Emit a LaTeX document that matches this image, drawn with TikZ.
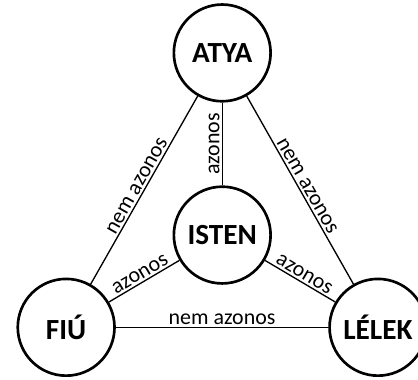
\documentclass[tikz,border=0pt]{standalone}
\usepackage{fontspec}
\setmainfont{Carlito}
\usepackage{tikz}
\usetikzlibrary{positioning}

\begin{document}
\begin{tikzpicture}[scale = 1,
  person/.style={circle, draw, line width=2pt, minimum size=2.56cm, inner sep=0pt, font=\fontsize{22}{25}\selectfont\bfseries},
  rel/.style={line width=1pt},
  lbl/.style={sloped, above, inner sep=1.5pt, font=\fontsize{16.5}{19}\selectfont}]
\useasboundingbox (0,0) rectangle (11.06,10.03);
\node[person] (atya)  at (5.88,8.63) {ATYA};
\node[person] (isten) at (5.88,3.81) {ISTEN};
\node[person] (fiu)   at (1.75,1.37) {FIÚ};
\node[person] (lelek) at (10.0,1.37) {LÉLEK};
\draw[rel] (fiu) -- (atya) node[lbl, midway] {nem azonos};
\draw[rel] (atya) -- (lelek) node[lbl, midway] {nem azonos};
\draw[rel] (isten) -- (atya) node[lbl, midway] {azonos};
\draw[rel] (fiu) -- (isten) node[lbl, midway] {azonos};
\draw[rel] (isten) -- (lelek) node[lbl, midway] {azonos};
\draw[rel] (fiu) -- (lelek) node[lbl, midway] {nem azonos};
\end{tikzpicture}
\end{document}
